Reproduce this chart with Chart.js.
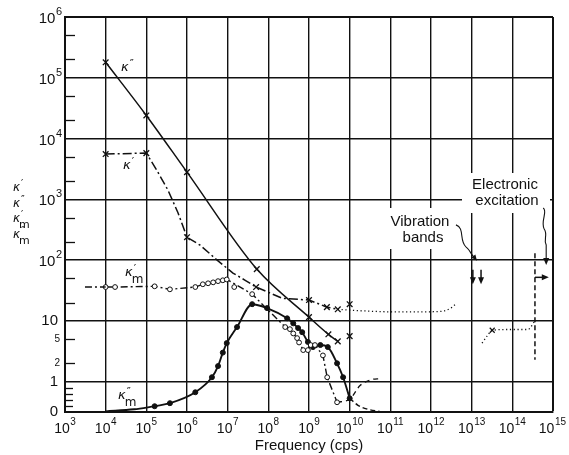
<!DOCTYPE html>
<html><head><meta charset="utf-8">
<script src="https://cdn.jsdelivr.net/npm/chart.js@4.4.1/dist/chart.umd.min.js"></script>
<style>html,body{margin:0;padding:0;background:#fff;}#wrap{width:569px;height:455px;}</style>
</head><body><div id="wrap"><canvas id="c" width="569" height="455"></canvas></div>
<script>
// ---------------- data ----------------
const freqTicks = [1e3,1e4,1e5,1e6,1e7,1e8,1e9,1e10,1e11,1e12,1e13,1e14,1e15];
const freqTickLabels = ['10^3','10^4','10^5','10^6','10^7','10^8','10^9','10^10','10^11','10^12','10^13','10^14','10^15'];
const kappaTicks = [0,1,2,5,10,100,1e3,1e4,1e5,1e6];
const kappaTickLabels = ['0','1','2','5','10','10^2','10^3','10^4','10^5','10^6'];
const kappaMinorTicks = [0.2,0.4,0.6,0.8,2,5,20,50,200,500,2e3,5e3,2e4,5e4,2e5,5e5];

// κ'' (solid, x markers)
const kappa2Freq = [1e4,1e5,1e6,5.2e7,1e9,3.0e9,5.1e9];
const kappa2Val  = [1.8e5,2.4e4,2.8e3,71,11.5,6.0,4.6];

// κ' (dash-dot curve) and its measured points
const kappa1CurveFreq = [1e4,1e5,1.8e5,3.4e5,6e5,1e6,2.1e6,5.5e6,1.35e7,2.7e7,5e7,2.2e8,1e9,2.75e9,5.1e9];
const kappa1CurveVal  = [5560,5760,3020,1420,600,238,176,100,61,46.5,36,23.5,22,16.8,15.5];
const kappa1MarkFreq  = [1e4,1e5,1e6,5e7,1e9,2.75e9,5.1e9];
const kappa1MarkVal   = [5560,5760,238,36,22,16.8,15.5];
// κ' dotted continuations
const kappa1IrFreq = [5.1e9,1e10,1.7e11,1.5e12,3.0e12,4.1e12];
const kappa1IrVal  = [15.5,15,14,14.2,16,19];
const kappa1OptFreq = [1.8e13,2.4e13,3.2e13,8.7e13,2.4e14,3.6e14];
const kappa1OptVal  = [4.3,5.6,7.0,7.2,7.2,10];
const kappa1OptMarkFreq = [3.2e13];
const kappa1OptMarkVal  = [7.0];
// unconnected x marks at 10^10
const strayMarkFreq = [1e10,1e10];
const strayMarkVal  = [18.8,5.6];

// κ'm (dash-dot, open circles)
const kappa1mLeadFreq = [3.1e3,1e4];
const kappa1mLeadVal  = [36,36];
const kappa1mFreq = [1e4,1.7e4,1.6e5,3.8e5,1.6e6,2.45e6,3.3e6,4.4e6,5.8e6,7.6e6,9.5e6,4.0e7,2.6e8,3.4e8,4.1e8,5.1e8,5.7e8,7.2e8,9.4e8,1.1e9,1.4e9,2.2e9,2.8e9,4.9e9];
const kappa1mVal  = [36,36,37,33,36,40,41.5,43,45,46.5,48,27.5,7.9,7.3,6.2,5.2,4.4,3.3,3.3,4.0,4.0,2.7,1.18,0.32];
const kappa1mOddFreq = [1.45e7];
const kappa1mOddVal  = [36];
const kappa1mTailFreq = [4.9e9,1e10,1.8e10,3.5e10,5.6e10];
const kappa1mTailVal  = [0.32,0.42,0.87,1.08,1.12];

// κ''m (solid, filled circles)
const kappa2mLeadFreq = [1e4,5e4,1.6e5];
const kappa2mLeadVal  = [0.02,0.09,0.19];
const kappa2mFreq = [1.6e5,3.8e5,1.6e6,4.1e6,5.8e6,7.6e6,9.5e6,1.7e7,4.0e7,9.3e7,2.9e8,4.1e8,5.4e8,6.8e8,9.4e8,1.25e9,1.9e9,2.9e9,4.9e9,6.9e9,1e10];
const kappa2mVal  = [0.19,0.29,0.65,1.18,1.8,3.0,4.3,7.9,18.8,16.2,11.0,9.1,7.6,6.5,4.5,3.7,4.0,3.7,2.0,1.18,0.45];
const kappa2mTailFreq = [1e10,1.6e10,2.8e10,5.5e10];
const kappa2mTailVal  = [0.45,0.22,0.09,0.02];

// annotation marks (frequency, κ)
const vibArrowFreq = [1.07e13,1.7e13];
const vibArrowTop = 69, vibArrowBottom = 40;
const elecArrowFreq = 6.8e14, elecArrowTip = 83;
const elecLineFreq = 3.6e14, elecLineTop = 130, elecLineBottom = 2.3;
const elecRightArrowVal = 52, elecRightArrowEnd = 7.9e14;

// ---------------- helpers ----------------
function tf(v){ return v >= 1 ? Math.log10(v) : (v - 1) * 0.5; }
function pts(fa, va){ return fa.map((f,i)=>({x:f, y:tf(va[i])})); }
const FONT = '"Liberation Sans","DejaVu Sans",sans-serif';
const INK = '#111';

function line(data, dash, width, extra){
  return Object.assign({data, showLine:true, borderColor:INK, borderWidth:width, borderDash:dash,
    pointRadius:0, fill:false, tension:0}, extra||{});
}

const datasets = [
  line(pts(kappa2Freq,kappa2Val), [], 1.5, {cubicInterpolationMode:'monotone', pointRadius:4, pointStyle:'crossRot', pointBorderWidth:1.3, pointBorderColor:INK}),
  line(pts(kappa1CurveFreq,kappa1CurveVal), [9,3,2,3], 1.5),
  line(pts(kappa1MarkFreq,kappa1MarkVal), [], 0, {showLine:false, pointRadius:4, pointStyle:'crossRot', pointBorderWidth:1.3, pointBorderColor:INK}),
  line(pts(kappa1IrFreq,kappa1IrVal), [1.2,2.6], 1.3, {cubicInterpolationMode:'monotone'}),
  line(pts(kappa1OptFreq,kappa1OptVal), [1.2,2.6], 1.3, {cubicInterpolationMode:'monotone'}),
  line(pts(kappa1OptMarkFreq,kappa1OptMarkVal), [], 0, {showLine:false, pointRadius:3.5, pointStyle:'crossRot', pointBorderWidth:1.2, pointBorderColor:INK}),
  line(pts(strayMarkFreq,strayMarkVal), [], 0, {showLine:false, pointRadius:4, pointStyle:'crossRot', pointBorderWidth:1.3, pointBorderColor:INK}),
  line(pts(kappa1mLeadFreq,kappa1mLeadVal), [7,3,2,3], 1.4),
  line(pts(kappa1mFreq,kappa1mVal), [7,3,2,3], 1.4, {pointRadius:2.4, pointStyle:'circle', pointBackgroundColor:'#fff', pointBorderColor:INK, pointBorderWidth:1}),
  line(pts(kappa1mOddFreq,kappa1mOddVal), [], 0, {showLine:false, pointRadius:2.4, pointBackgroundColor:'#fff', pointBorderColor:INK, pointBorderWidth:1}),
  line(pts(kappa1mTailFreq,kappa1mTailVal), [5,4], 1.3, {cubicInterpolationMode:'monotone'}),
  line(pts(kappa2mLeadFreq,kappa2mLeadVal), [], 1.8, {cubicInterpolationMode:'monotone'}),
  line(pts(kappa2mFreq,kappa2mVal), [], 1.9, {cubicInterpolationMode:'monotone', pointRadius:2.5, pointBackgroundColor:INK, pointBorderColor:INK, pointBorderWidth:1}),
  line(pts(kappa2mTailFreq,kappa2mTailVal), [5,3], 1.5, {cubicInterpolationMode:'monotone'}),
];

function arrowHead(ctx, x, y, ang, len, w){
  len = len || 7; w = w || 3;
  const c = Math.cos(ang), s = Math.sin(ang);
  ctx.beginPath();
  ctx.moveTo(x, y);
  ctx.lineTo(x - len*c + w*s, y - len*s - w*c);
  ctx.lineTo(x - len*c - w*s, y - len*s + w*c);
  ctx.closePath(); ctx.fill();
}
function kappaLabel(ctx, x, y, primes, sub, size){
  ctx.textAlign = 'left'; ctx.textBaseline = 'middle';
  ctx.font = `italic ${size}px "DejaVu Sans",sans-serif`;
  ctx.fillText('κ', x, y);
  const w = ctx.measureText('κ').width;
  ctx.font = `${Math.round(size*0.85)}px "DejaVu Sans",sans-serif`;
  ctx.fillText(primes, x + w + 1, y - size*0.3);
  if (sub){
    ctx.font = `${Math.round(size*0.9)}px "DejaVu Sans",sans-serif`;
    ctx.fillText('m', x + w - 1, y + size*0.55);
  }
}
// draws "10^n" as base + raised exponent; anchor: 'center' (whole label centred at x) or 'right'
function powerLabel(ctx, label, x, y, anchor, baseSize){
  const parts = label.split('^');
  const base = parts[0], exp = parts[1] || '';
  const expSize = Math.round(baseSize*0.7);
  ctx.textBaseline = 'middle'; ctx.textAlign = 'left';
  ctx.font = `${baseSize}px ${FONT}`;
  const bw = ctx.measureText(base).width;
  ctx.font = `${expSize}px ${FONT}`;
  const ew = exp ? ctx.measureText(exp).width + 0.5 : 0;
  let x0 = anchor === 'center' ? x - (bw + ew)/2 : x - bw - ew;
  if (x0 + bw + ew > 566) x0 = 566 - bw - ew;
  ctx.font = `${baseSize}px ${FONT}`;
  ctx.fillText(base, x0, y + (exp ? 2 : 0));
  if (exp){
    ctx.font = `${expSize}px ${FONT}`;
    ctx.fillText(exp, x0 + bw + 0.5, y - 5);
  }
}

const annot = {
  id:'annot',
  beforeDatasetsDraw(chart){
    const ctx = chart.ctx;
    ctx.save();
    ctx.fillStyle = '#fff';
    ctx.fillRect(384, 208, 72, 41);
    ctx.fillRect(462, 173, 88, 40);
    ctx.fillStyle = INK;
    ctx.font = `15px ${FONT}`;
    ctx.textAlign = 'center'; ctx.textBaseline = 'middle';
    ctx.fillText('Vibration', 420, 222);
    ctx.fillText('bands', 423, 238);
    ctx.fillText('Electronic', 505, 185);
    ctx.fillText('excitation', 507, 201);
    ctx.restore();
  },
  afterDatasetsDraw(chart){
    const ctx = chart.ctx, xs = chart.scales.x, ys = chart.scales.y, ca = chart.chartArea;
    const X = f => xs.getPixelForValue(f), Y = v => ys.getPixelForValue(tf(v));
    ctx.save();
    ctx.strokeStyle = INK; ctx.fillStyle = INK;
    // tick labels
    freqTicks.forEach((f,i) => powerLabel(ctx, freqTickLabels[i], X(f), ca.bottom + 15, 'center', 14));
    kappaTicks.forEach((v,i) => {
      const small = (v === 2 || v === 5);
      powerLabel(ctx, kappaTickLabels[i], small ? 60 : (kappaTickLabels[i].indexOf('^') >= 0 ? 62 : 58), Y(v), 'right', small ? 10 : 15);
    });
    // minor ticks on the left axis
    ctx.lineWidth = 1.3;
    kappaMinorTicks.forEach(v => {
      const y = Math.round(Y(v)) + 0.5;
      const len = v < 1 ? 8 : 10;
      ctx.beginPath(); ctx.moveTo(ca.left, y); ctx.lineTo(ca.left + len, y); ctx.stroke();
    });
    // vibration arrows
    ctx.lineWidth = 1.5;
    vibArrowFreq.forEach(f => {
      const x = X(f), y0 = Y(vibArrowTop), y1 = Y(vibArrowBottom);
      ctx.beginPath(); ctx.moveTo(x, y0); ctx.lineTo(x, y1 - 5); ctx.stroke();
      arrowHead(ctx, x, y1, Math.PI/2, 7, 3);
    });
    // vibration leader
    {
      const tx = (X(vibArrowFreq[0]) + X(vibArrowFreq[1]))/2, ty = Y(vibArrowTop) - 9;
      ctx.lineWidth = 1.1;
      ctx.beginPath();
      ctx.moveTo(tx - 21, ty - 36);
      ctx.bezierCurveTo(tx - 12, ty - 33, tx - 18, ty - 20, tx - 11, ty - 14);
      ctx.bezierCurveTo(tx - 6, ty - 10, tx - 6, ty - 6, tx - 3, ty - 4);
      ctx.stroke();
      arrowHead(ctx, tx, ty, Math.atan2(4, 3), 6, 2.5);
    }
    // electronic arrow + leader
    {
      const x = X(elecArrowFreq), y = Y(elecArrowTip);
      ctx.lineWidth = 1.1;
      ctx.beginPath();
      ctx.moveTo(x - 3, y - 57);
      ctx.bezierCurveTo(x + 2, y - 54, x - 6, y - 44, x - 2, y - 36);
      ctx.bezierCurveTo(x + 2, y - 30, x - 3, y - 26, x, y - 20);
      ctx.lineTo(x, y - 5);
      ctx.stroke();
      arrowHead(ctx, x, y, Math.PI/2, 7, 3);
    }
    // dashed vertical line (electronic edge)
    {
      const x = X(elecLineFreq);
      ctx.lineWidth = 1.5; ctx.setLineDash([5,3]);
      ctx.beginPath(); ctx.moveTo(x, Y(elecLineTop)); ctx.lineTo(x, Y(elecLineBottom)); ctx.stroke();
      ctx.setLineDash([]);
      const y = Y(elecRightArrowVal), x1 = X(elecRightArrowEnd);
      ctx.beginPath(); ctx.moveTo(x, y); ctx.lineTo(x1 - 5, y); ctx.stroke();
      arrowHead(ctx, x1, y, 0, 7, 3);
    }
    // curve labels
    kappaLabel(ctx, 121, 68, '″', false, 13);
    kappaLabel(ctx, 123, 166, '′', false, 13);
    kappaLabel(ctx, 125, 273, '′', true, 13);
    kappaLabel(ctx, 118, 396, '″', true, 13);
    // y-axis title stack
    kappaLabel(ctx, 13, 188, '′', false, 12);
    kappaLabel(ctx, 13, 204, '″', false, 12);
    kappaLabel(ctx, 13, 219, '′', true, 12);
    kappaLabel(ctx, 13, 235, '″', true, 12);
    ctx.restore();
  }
};

const isMinorLabel = v => Math.abs(v - tf(2)) < 1e-9 || Math.abs(v - tf(5)) < 1e-9;

new Chart(document.getElementById('c'), {
  type:'scatter',
  data:{datasets},
  options:{
    responsive:false, animation:false, devicePixelRatio:1,
    layout:{padding:{top:17,right:16,left:0,bottom:0}},
    plugins:{legend:{display:false}, tooltip:{enabled:false}},
    scales:{
      x:{
        type:'logarithmic', min:1e3, max:1e15,
        afterBuildTicks: s => { s.ticks = freqTicks.map(v => ({value:v, major:true})); },
        afterFit: s => { s.height = 43; },
        ticks:{display:false},
        grid:{color:'#111', lineWidth: c => (c.index === freqTicks.length - 1 ? 2 : 1.4), drawTicks:false},
        border:{color:INK, width:2},
        title:{display:true, text:'Frequency (cps)', color:INK, font:{family:FONT, size:15}, padding:{top:0,bottom:0}}
      },
      y:{
        type:'linear', min:tf(0), max:tf(1e6),
        afterBuildTicks: s => { s.ticks = kappaTicks.map(v => ({value:tf(v)})); },
        afterFit: s => { s.width = 65; },
        ticks:{display:false},
        grid:{drawTicks:false,
          color: c => (c.tick && isMinorLabel(c.tick.value)) ? 'rgba(0,0,0,0)' : '#111',
          lineWidth: c => (c.index === kappaTicks.length - 1 ? 2 : 1.4)},
        border:{color:INK, width:2}
      }
    }
  },
  plugins:[annot]
});
</script></body></html>
